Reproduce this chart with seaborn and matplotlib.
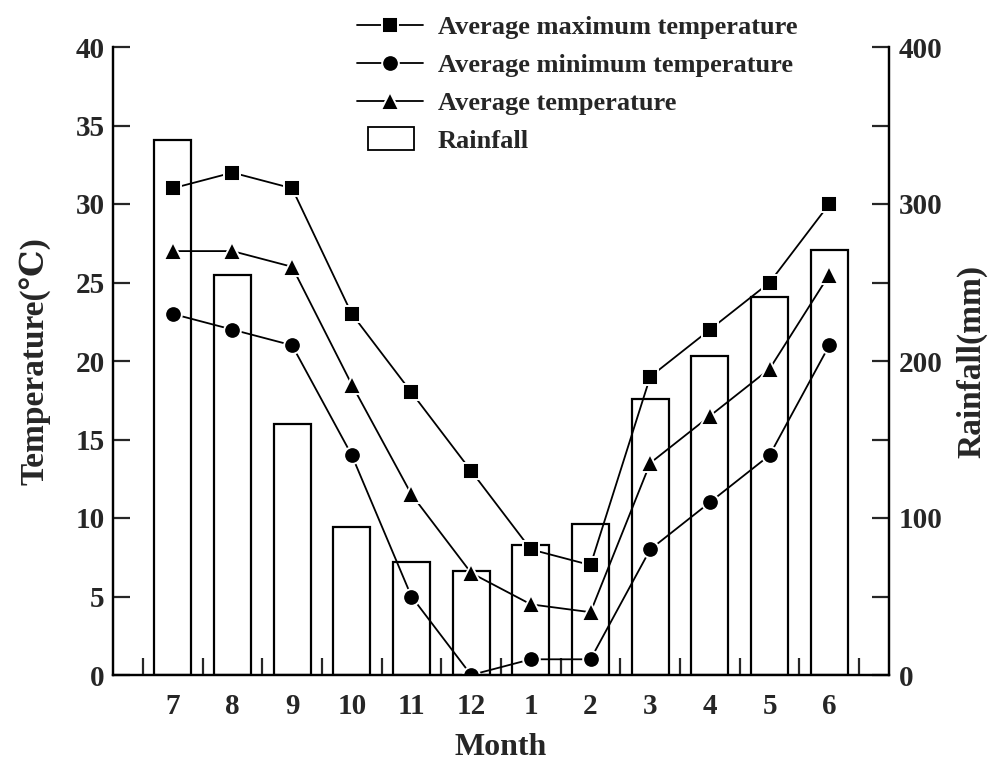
import numpy as np
import pandas as pd
import matplotlib
matplotlib.use("Agg")
import matplotlib.pyplot as plt
import seaborn as sns
from matplotlib.lines import Line2D
from matplotlib.patches import Patch, Rectangle
from matplotlib.legend_handler import HandlerPatch

months = ["7", "8", "9", "10", "11", "12", "1", "2", "3", "4", "5", "6"]
t_max = [31, 32, 31, 23, 18, 13, 8, 7, 19, 22, 25, 30]
t_min = [23, 22, 21, 14, 5, 0, 1, 1, 8, 11, 14, 21]
t_avg = [27, 27, 26, 18.5, 11.5, 6.5, 4.5, 4, 13.5, 16.5, 19.5, 25.5]
rainfall = [341, 255, 160, 94, 72, 66, 83, 96, 176, 203, 241, 271]
temp_ticks = [0, 5, 10, 15, 20, 25, 30, 35, 40]
rain_ticks = [0, 100, 200, 300, 400]

sns.set_theme(style="ticks")
plt.rcParams["font.family"] = ["Liberation Serif", "DejaVu Serif"]
plt.rcParams["font.weight"] = "bold"

fig = plt.figure(figsize=(9.92, 7.62), dpi=100)
ax = fig.add_axes([113/992, 1 - 675/762, (889-113)/992, (675-47)/762])
ax2 = ax.twinx()

idx = np.arange(len(months))
df = pd.DataFrame({"month": months, "idx": idx, "max": t_max, "min": t_min,
                   "avg": t_avg, "rain": rainfall})

sns.barplot(data=df, x="month", y="rain", ax=ax2, order=months, color="white",
            edgecolor="black", linewidth=1.6, width=0.62, saturation=1)

lw = 1.3
common = dict(color="black", linewidth=lw, markeredgecolor="white",
              markeredgewidth=1.4, ax=ax)
sns.lineplot(data=df, x="idx", y="max", marker="s", markersize=11, **common)
sns.lineplot(data=df, x="idx", y="min", marker="o", markersize=12, **common)
sns.lineplot(data=df, x="idx", y="avg", marker="^", markersize=13, **common)

ax.set_zorder(ax2.get_zorder() + 1)
ax.patch.set_visible(False)

ax.set_xlim(-1, 12)
ax2.set_xlim(-1, 12)
ax.set_ylim(0, 40)
ax2.set_ylim(0, 400)

tick_fs = 21
# x ticks: inward marks between bars, labels at bar centers
ax.set_xticks(np.arange(-0.5, 12, 1.0))
ax.set_xticklabels([])
ax.set_xticks(idx, minor=True)
ax.set_xticklabels(months, minor=True)
ax.tick_params(axis="x", which="major", direction="in", length=12, width=1.6,
               top=False, bottom=True)
ax.tick_params(axis="x", which="minor", length=0, pad=13, labelsize=tick_fs)
ax2.tick_params(axis="x", which="both", length=0, labelbottom=False)
ax2.set_xlabel("")

ax.set_yticks(temp_ticks)
ax.set_yticklabels([str(t) for t in temp_ticks])
ax.tick_params(axis="y", direction="in", length=12, width=1.6, labelsize=tick_fs,
               pad=6, right=False)
ax2.set_yticks(rain_ticks)
ax2.set_yticklabels([str(t) for t in rain_ticks])
ax2.set_yticks(np.arange(50, 400, 100), minor=True)
ax2.tick_params(axis="y", which="both", direction="in", length=12, width=1.6,
                labelsize=tick_fs, pad=7, left=False)

for a in (ax, ax2):
    for s in ["left", "right", "bottom"]:
        a.spines[s].set_linewidth(1.6)
        a.spines[s].set_color("black")
    a.spines["top"].set_visible(False)

ax.set_xlabel("Month", fontsize=23, fontweight="bold", labelpad=9)
ax.set_ylabel("Temperature(\u2103)", fontsize=24, fontweight="bold", labelpad=18)
ax2.set_ylabel("Rainfall(mm)", fontsize=24, fontweight="bold", labelpad=10)

for lab in ax.get_xticklabels(minor=True) + ax.get_yticklabels() + ax2.get_yticklabels():
    lab.set_fontweight("bold")


def make_rect(legend, orig_handle, xdescent, ydescent, width, height, fontsize):
    w = width * 0.7
    h = height * 1.25
    return Rectangle((-xdescent + (width - w) / 2 + 1, -ydescent + (height - h) / 2), w, h)


handles = [
    Line2D([], [], color="black", lw=lw, marker="s", markersize=11, markeredgecolor="white", markeredgewidth=1.4),
    Line2D([], [], color="black", lw=lw, marker="o", markersize=12, markeredgecolor="white", markeredgewidth=1.4),
    Line2D([], [], color="black", lw=lw, marker="^", markersize=13, markeredgecolor="white", markeredgewidth=1.4),
    Patch(facecolor="white", edgecolor="black", linewidth=1.3),
]
labels = ["Average maximum temperature", "Average minimum temperature",
          "Average temperature", "Rainfall"]
fig.legend(handles, labels, loc="upper left", bbox_to_anchor=(346/992, 1 - 5/762),
           frameon=False, prop={"size": 19, "weight": "bold"}, handlelength=2.5,
           handletextpad=0.57, labelspacing=0.55, borderaxespad=0,
           handler_map={Patch: HandlerPatch(patch_func=make_rect)})

fig.savefig("out.png", dpi=100)
